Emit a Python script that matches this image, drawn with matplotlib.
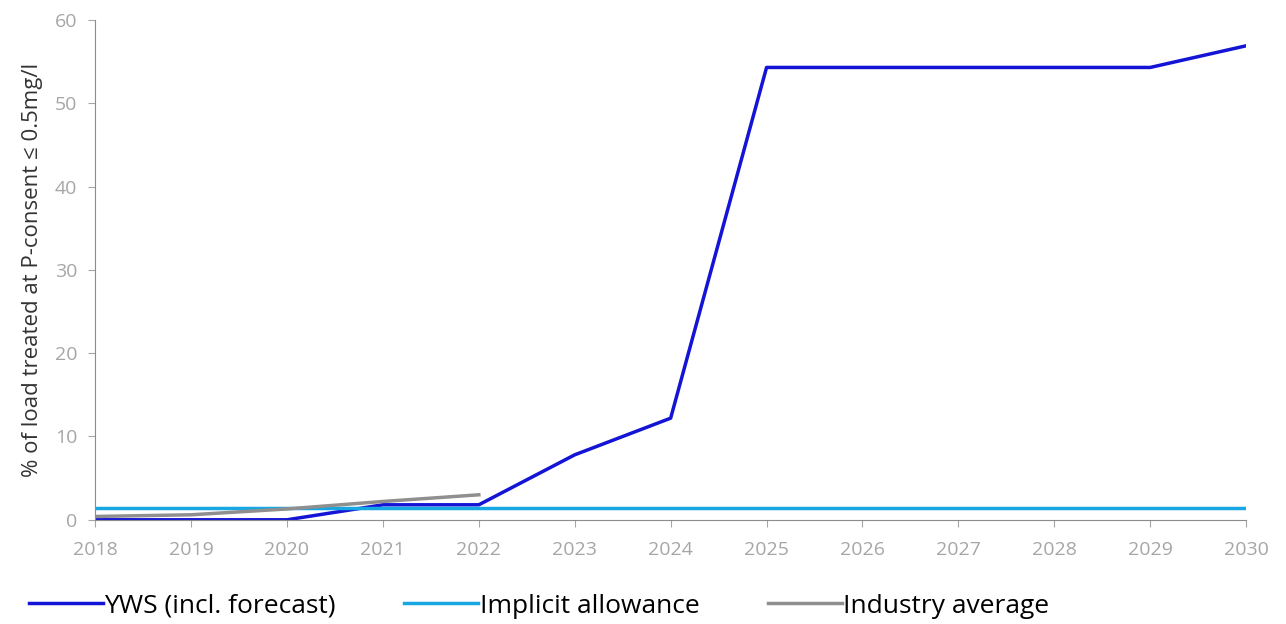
import matplotlib.pyplot as plt

years = [2018, 2019, 2020, 2021, 2022, 2023, 2024, 2025, 2026, 2027, 2028, 2029, 2030]
yws = [0, 0, 0, 1.8, 1.8, 7.8, 12.2, 54.3, 54.3, 54.3, 54.3, 54.3, 56.9]
implicit = [1.4] * len(years)
industry_years = [2018, 2019, 2020, 2021, 2022]
industry = [0.4, 0.6, 1.3, 2.2, 3.0]

plt.rcParams['font.family'] = ['Open Sans', 'DejaVu Sans']

fig = plt.figure(figsize=(12.86, 6.24), dpi=100)
ax = fig.add_axes([0.074, 0.167, 0.895, 0.801])

ax.plot(years, yws, color="#1414d6", lw=2.5, label="YWS (incl. forecast)")
ax.plot(years, implicit, color="#17a8e3", lw=2.5, label="Implicit allowance")
ax.plot(industry_years, industry, color="#8f8f8f", lw=2.5, label="Industry average")

ax.set_xlim(2018, 2030)
ax.set_ylim(0, 60)
ax.set_xticks(years)
ax.set_yticks(range(0, 61, 10))
ax.tick_params(colors="#a6a6a6", labelsize=14, length=5, width=0.8)
ax.tick_params(axis="x", pad=10)
ax.tick_params(axis="y", pad=8)
for s in ["top", "right"]:
    ax.spines[s].set_visible(False)
for s in ["left", "bottom"]:
    ax.spines[s].set_color("#8c8c8c")
ax.set_ylabel("% of load treated at P-consent ≤ 0.5mg/l", fontsize=16, color="#333333", labelpad=8)

ax.legend(loc="upper left", bbox_to_anchor=(-0.078, -0.1), ncol=3, frameon=False,
          fontsize=19, handlelength=2.8, handletextpad=0.05, columnspacing=2.6)

fig.savefig("out.png", dpi=100)
